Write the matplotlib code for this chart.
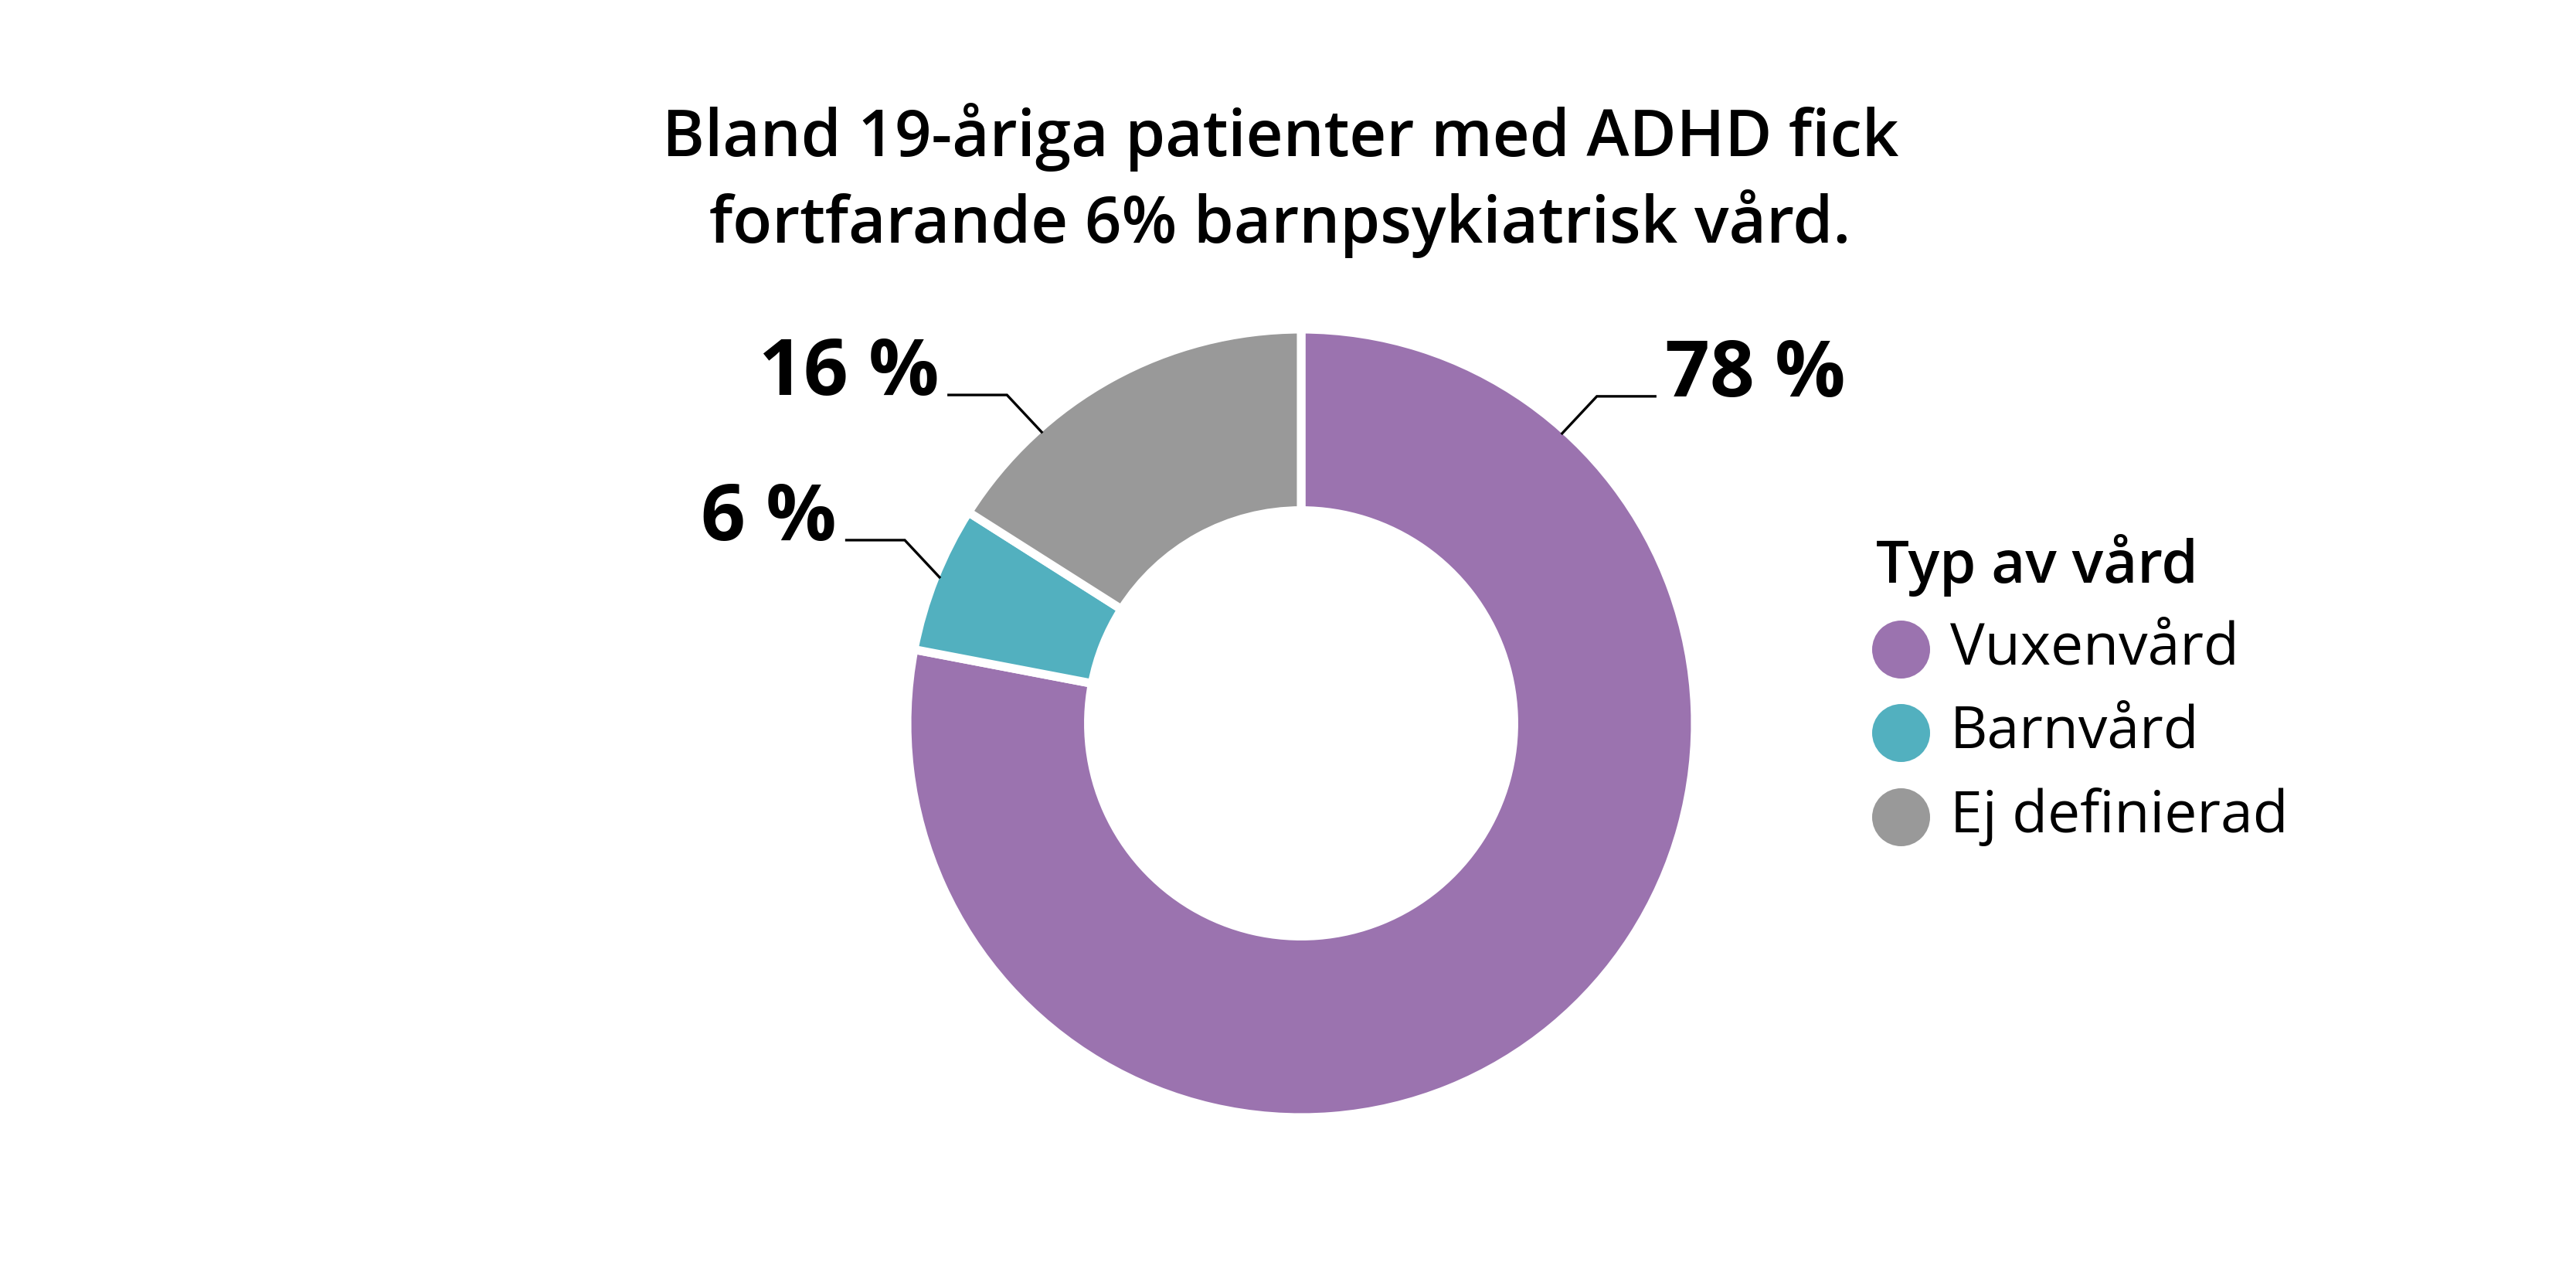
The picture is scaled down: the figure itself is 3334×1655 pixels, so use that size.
import numpy as np
import matplotlib.pyplot as plt
from matplotlib.lines import Line2D

# data
kategorier = ["Vuxenvård", "Barnvård", "Ej definierad"]
andelar = [78, 6, 16]
etiketter = ["78 %", "6 %", "16 %"]
farger = ["#9b73af", "#52b0bf", "#999999"]

titel = "Bland 19-åriga patienter med ADHD fick\nfortfarande 6% barnpsykiatrisk vård."
legend_titel = "Typ av vård"

# label anchor angles on the outer ring (degrees, standard orientation)
etikett_vinklar = [48, 158, 131.7]

plt.rcParams['font.family'] = ['Open Sans', 'DejaVu Sans']

fig = plt.figure(figsize=(3334 / 200, 1655 / 200), dpi=200)

# axes placed so that radius 1 = ~510 px, centre at (1684, 936)
R = 510
cx, cy = 1684, 936
half = 1.3 * R
ax = fig.add_axes([(cx - half) / 3334, 1 - (cy + half) / 1655,
                   2 * half / 3334, 2 * half / 1655])

ax.pie(andelar, colors=farger, startangle=90, counterclock=False,
       radius=1, wedgeprops=dict(width=0.46, edgecolor='white', linewidth=4))
ax.set_xlim(-1.3, 1.3)
ax.set_ylim(-1.3, 1.3)
ax.set_aspect('equal')
ax.axis('off')

# leader lines and labels
for etikett, vinkel in zip(etiketter, etikett_vinklar):
    a = np.deg2rad(vinkel)
    x0, y0 = 0.99 * np.cos(a), 0.99 * np.sin(a)
    s = 1 if x0 > 0 else -1
    x1, y1 = x0 + s * 0.088, y0 + 0.094
    x2 = x1 + s * 0.148
    ax.plot([x0, x1, x2], [y0, y1, y1], color='black', lw=1.2,
            solid_joinstyle='miter')
    ax.text(x2 + s * 0.025, y1, etikett, ha='left' if s > 0 else 'right',
            va='baseline', fontsize=36.5, fontweight='bold')

# title
fig.text(0.497, 0.859, titel, ha='center', va='center', fontsize=30,
         fontweight='semibold', linespacing=1.34)

# legend
fig.text(0.7283, 0.5583, legend_titel, ha='left', va='center', fontsize=27.3,
         fontweight='semibold')
leg_y = [0.4924, 0.4272, 0.3613]
for namn, farg, y in zip(kategorier, farger, leg_y):
    fig.add_artist(Line2D([0.738], [y], marker='o', markersize=26,
                          color=farg, linestyle='none',
                          transform=fig.transFigure))
    fig.text(0.757, y, namn, ha='left', va='center', fontsize=27)

fig.savefig("out.png", dpi=200, facecolor='white')
